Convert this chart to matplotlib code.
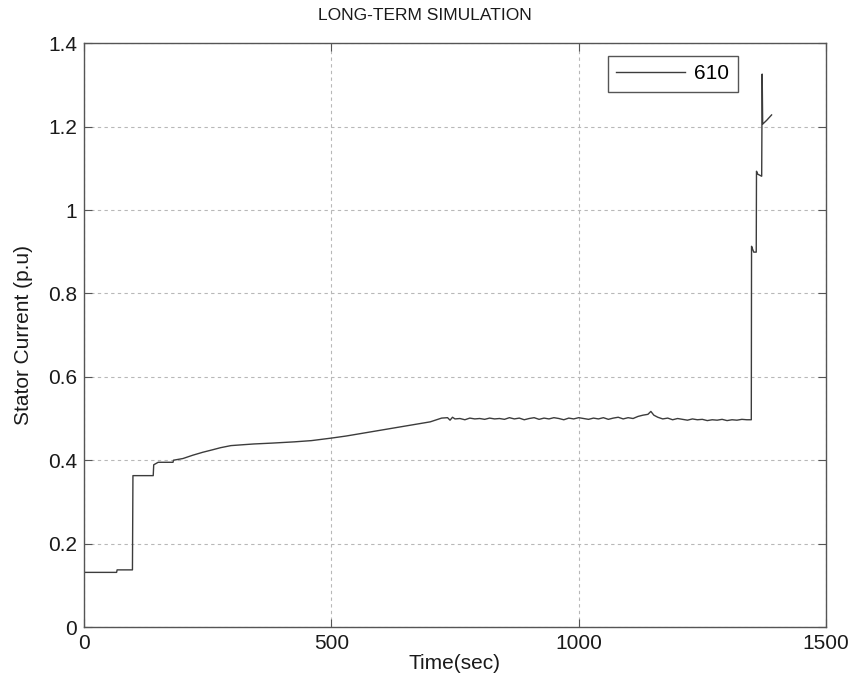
import matplotlib
matplotlib.use("Agg")
import matplotlib.pyplot as plt


# -----------------------------
# Data
# -----------------------------
TIME_SEC = [
    0, 66, 67, 98, 99, 140, 141, 150, 180, 181,
    200, 220, 240, 260, 276, 297, 320, 344, 380, 425,
    460, 500, 530, 560, 590, 620, 650, 680, 700, 723,
    735, 740, 745, 750, 760, 770, 780, 790, 800, 810,
    820, 830, 840, 850, 860, 870, 880, 890, 900, 910,
    920, 930, 940, 950, 960, 970, 980, 990, 1000, 1010,
    1020, 1030, 1040, 1050, 1060, 1070, 1080, 1090, 1100, 1110,
    1120, 1130, 1140, 1146, 1152, 1160, 1170, 1180, 1190, 1200,
    1210, 1220, 1230, 1240, 1250, 1260, 1270, 1280, 1290, 1300,
    1310, 1320, 1330, 1340, 1349,
    1349.5, 1352, 1354, 1359, 1359.5, 1362, 1370, 1371, 1372, 1380,
    1390,
]
STATOR_CURRENT = [
    0.131, 0.131, 0.137, 0.137, 0.363, 0.363, 0.389, 0.395, 0.395, 0.400,
    0.404, 0.412, 0.419, 0.425, 0.430, 0.435, 0.437, 0.439, 0.441, 0.444,
    0.447, 0.453, 0.458, 0.464, 0.470, 0.476, 0.482, 0.488, 0.492, 0.501,
    0.502, 0.496, 0.503, 0.499, 0.500, 0.497, 0.501, 0.499, 0.500, 0.498,
    0.501, 0.499, 0.500, 0.498, 0.502, 0.499, 0.501, 0.497, 0.500, 0.502,
    0.498, 0.501, 0.499, 0.502, 0.500, 0.497, 0.501, 0.499, 0.502, 0.500,
    0.498, 0.501, 0.499, 0.502, 0.498, 0.501, 0.503, 0.499, 0.502, 0.500,
    0.505, 0.508, 0.510, 0.517, 0.508, 0.503, 0.499, 0.501, 0.497, 0.500,
    0.498, 0.496, 0.499, 0.497, 0.498, 0.495, 0.497, 0.496, 0.498, 0.495,
    0.497, 0.496, 0.498, 0.497, 0.497,
    0.913, 0.905, 0.899, 0.899, 1.093, 1.086, 1.081, 1.326, 1.206, 1.215,
    1.228,
]
SERIES_LABEL = "610"

X_TICKS = [0, 500, 1000, 1500]
Y_TICKS = [0, 0.2, 0.4, 0.6, 0.8, 1.0, 1.2, 1.4]
Y_TICK_LABELS = ["0", "0.2", "0.4", "0.6", "0.8", "1", "1.2", "1.4"]


def make_plot() -> None:
    plt.rcParams["font.family"] = ["Liberation Sans", "DejaVu Sans"]

    fig = plt.figure(figsize=(8.49, 6.86), dpi=100)
    ax = fig.add_axes([0.0989, 0.086, 0.874, 0.851])

    ax.plot(TIME_SEC, STATOR_CURRENT, color="#3c3c3c", linewidth=1.0,
            label=SERIES_LABEL)

    ax.set_xlim(0, 1500)
    ax.set_ylim(0, 1.4)
    ax.set_xticks(X_TICKS)
    ax.set_yticks(Y_TICKS)
    ax.set_yticklabels(Y_TICK_LABELS)

    # MATLAB-like look: inside ticks on all sides, dotted grid
    ax.tick_params(direction="in", top=True, right=True, labelsize=15,
                   length=6, color="#555555", labelcolor="#1a1a1a")
    ax.tick_params(axis="x", pad=5)
    ax.tick_params(axis="y", pad=5)
    ax.grid(True, color="#b8b8b8", linestyle=(0, (3, 3)), linewidth=0.8)
    for spine in ax.spines.values():
        spine.set_color("#555555")
        spine.set_linewidth(1.0)

    # title sits centred on the figure, not on the axes
    fig.text(0.5, 0.977, "LONG-TERM SIMULATION", fontsize=12.5,
             ha="center", va="center", color="#1a1a1a")
    ax.set_xlabel("Time(sec)", fontsize=15, labelpad=1, color="#1a1a1a")
    ax.set_ylabel("Stator Current (p.u)", fontsize=15, labelpad=11,
                  color="#1a1a1a")

    leg = ax.legend(loc="upper right", fontsize=15, fancybox=False,
                    bbox_to_anchor=(0.881, 0.978), borderaxespad=0,
                    handlelength=3.3, handletextpad=0.45, borderpad=0.4)
    leg.get_frame().set_edgecolor("#555555")
    leg.get_frame().set_linewidth(1.0)
    leg.get_frame().set_alpha(1.0)

    fig.savefig("out.png", dpi=100)
    plt.close(fig)


def main() -> None:
    make_plot()


if __name__ == "__main__":
    main()
